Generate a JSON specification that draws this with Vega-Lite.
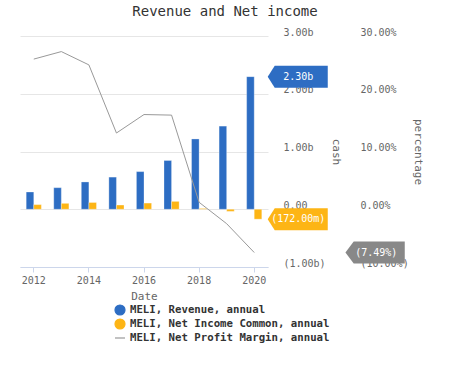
{
  "$schema": "https://vega.github.io/schema/vega-lite/v6.json",
  "width": 248,
  "height": 231,
  "padding": {"left": 20, "top": 5, "right": 5, "bottom": 5},
  "background": "#ffffff",
  "config": {
    "font": "DejaVu Sans Mono",
    "view": {"stroke": null},
    "axis": {"labelFont": "DejaVu Sans Mono", "titleFont": "DejaVu Sans Mono", "labelColor": "#666666", "titleColor": "#666666", "labelFontSize": 10, "titleFontSize": 11, "titleFontWeight": "normal"},
    "legend": {"labelFont": "DejaVu Sans Mono"}
  },
  "title": {"text": "Revenue and Net income", "font": "DejaVu Sans Mono", "fontSize": 14, "fontWeight": "normal", "color": "#333333", "offset": 8, "dx": 81},
  "data": {"values": [
    {"year": 2012, "series": "MELI, Revenue, annual", "cash": 298.9},
    {"year": 2013, "series": "MELI, Revenue, annual", "cash": 373.4},
    {"year": 2014, "series": "MELI, Revenue, annual", "cash": 472.6},
    {"year": 2015, "series": "MELI, Revenue, annual", "cash": 556.5},
    {"year": 2016, "series": "MELI, Revenue, annual", "cash": 651.8},
    {"year": 2017, "series": "MELI, Revenue, annual", "cash": 844.4},
    {"year": 2018, "series": "MELI, Revenue, annual", "cash": 1217.0},
    {"year": 2019, "series": "MELI, Revenue, annual", "cash": 1439.7},
    {"year": 2020, "series": "MELI, Revenue, annual", "cash": 2296.3},
    {"year": 2012, "series": "MELI, Net Income Common, annual", "cash": 80},
    {"year": 2013, "series": "MELI, Net Income Common, annual", "cash": 102},
    {"year": 2014, "series": "MELI, Net Income Common, annual", "cash": 117},
    {"year": 2015, "series": "MELI, Net Income Common, annual", "cash": 73},
    {"year": 2016, "series": "MELI, Net Income Common, annual", "cash": 107},
    {"year": 2017, "series": "MELI, Net Income Common, annual", "cash": 136},
    {"year": 2018, "series": "MELI, Net Income Common, annual", "cash": 14},
    {"year": 2019, "series": "MELI, Net Income Common, annual", "cash": -37},
    {"year": 2020, "series": "MELI, Net Income Common, annual", "cash": -172},
    {"year": 2012, "series": "MELI, Net Profit Margin, annual", "pct": 26.0},
    {"year": 2013, "series": "MELI, Net Profit Margin, annual", "pct": 27.3},
    {"year": 2014, "series": "MELI, Net Profit Margin, annual", "pct": 25.0},
    {"year": 2015, "series": "MELI, Net Profit Margin, annual", "pct": 13.2},
    {"year": 2016, "series": "MELI, Net Profit Margin, annual", "pct": 16.4},
    {"year": 2017, "series": "MELI, Net Profit Margin, annual", "pct": 16.3},
    {"year": 2018, "series": "MELI, Net Profit Margin, annual", "pct": 1.2},
    {"year": 2019, "series": "MELI, Net Profit Margin, annual", "pct": -2.5},
    {"year": 2020, "series": "MELI, Net Profit Margin, annual", "pct": -7.49}
  ]},
  "encoding": {
    "x": {
      "field": "year", "type": "ordinal",
      "scale": {"paddingInner": 0.45, "paddingOuter": 0.225},
      "axis": {"values": [2012, 2014, 2016, 2018, 2020], "labelAngle": 0, "title": "Date", "domainColor": "#ccd6eb", "tickColor": "#ccd6eb", "tickSize": 5, "labelPadding": 3, "titlePadding": 5, "grid": false}
    }
  },
  "layer": [
    {
      "transform": [{"filter": "isValid(datum.cash)"}],
      "encoding": {
        "y": {
          "field": "cash", "type": "quantitative",
          "scale": {"domain": [-1000, 3000], "nice": false, "zero": false},
          "axis": {
            "orient": "right", "offset": 0,
            "values": [-1000, 0, 1000, 2000, 3000],
            "labelExpr": "datum.value === 0 ? '0.00' : (datum.value < 0 ? '(' + format(abs(datum.value) / 1000, '.2f') + 'b)' : format(datum.value / 1000, '.2f') + 'b')",
            "title": "cash", "titleAngle": 90, "titlePadding": 5,
            "grid": true, "gridColor": "#e6e6e6", "domain": false, "ticks": false,
            "labelPadding": 15, "labelAlign": "left", "labelBaseline": "alphabetic", "labelOffset": -1
          }
        }
      },
      "layer": [
        {
          "mark": {"type": "bar", "stroke": "#ffffff", "strokeWidth": 0.6, "strokeOpacity": 0.5},
          "encoding": {
            "xOffset": {"field": "series", "type": "nominal", "sort": ["MELI, Revenue, annual", "MELI, Net Income Common, annual"], "scale": {"paddingInner": 0, "paddingOuter": 0}},
            "color": {
              "field": "series", "type": "nominal",
              "scale": {"domain": ["MELI, Revenue, annual", "MELI, Net Income Common, annual", "MELI, Net Profit Margin, annual"], "range": ["#2d6dc3", "#fdb515", "#999999"]},
              "legend": {
                "orient": "none", "legendX": 94, "legendY": 268, "direction": "vertical", "title": null,
                "labelFontSize": 10.7, "labelFontWeight": "bold", "labelColor": "#333333", "labelLimit": 400,
                "symbolSize": 100, "rowPadding": -3.7, "labelOffset": 4,
                "symbolType": {"expr": "datum.value === 'MELI, Net Profit Margin, annual' ? 'stroke' : 'circle'"},
                "symbolStrokeColor": {"expr": "datum.value === 'MELI, Net Profit Margin, annual' ? '#999999' : 'transparent'"},
                "symbolStrokeWidth": 1.2
              }
            }
          }
        },
        {
          "transform": [{"filter": "datum.year === 2020"}],
          "mark": {"type": "point", "shape": "M 1.35 0 L 2.05 -1.1 L 7.35 -1.1 L 7.35 1.1 L 2.05 1.1 Z", "size": 400, "filled": true, "opacity": 1, "strokeWidth": 0},
          "encoding": {
            "color": {"field": "series", "type": "nominal", "scale": {"domain": ["MELI, Revenue, annual", "MELI, Net Income Common, annual", "MELI, Net Profit Margin, annual"], "range": ["#2d6dc3", "#fdb515", "#999999"]}, "legend": null}
          }
        },
        {
          "transform": [
            {"filter": "datum.year === 2020"},
            {"calculate": "datum.cash < 0 ? '(' + format(abs(datum.cash), '.2f') + 'm)' : format(datum.cash / 1000, '.2f') + 'b'", "as": "label"}
          ],
          "mark": {"type": "text", "xOffset": 44, "color": "#ffffff", "fontSize": 10, "font": "DejaVu Sans Mono", "align": "center", "baseline": "middle"},
          "encoding": {"text": {"field": "label"}}
        }
      ]
    },
    {
      "transform": [{"filter": "isValid(datum.pct)"}],
      "encoding": {
        "y": {
          "field": "pct", "type": "quantitative",
          "scale": {"domain": [-10, 30], "nice": false, "zero": false},
          "axis": {
            "orient": "right", "offset": 77,
            "values": [-10, 0, 10, 20, 30],
            "labelExpr": "datum.value < 0 ? '(' + format(abs(datum.value), '.2f') + '%)' : format(datum.value, '.2f') + '%'",
            "title": "percentage", "titleAngle": 90, "titlePadding": 4,
            "grid": false, "domain": false, "ticks": false,
            "labelPadding": 15, "labelAlign": "left", "labelBaseline": "alphabetic", "labelOffset": -1
          }
        }
      },
      "layer": [
        {
          "mark": {"type": "line", "strokeWidth": 1},
          "encoding": {
            "color": {"field": "series", "type": "nominal"}
          }
        },
        {
          "transform": [{"filter": "datum.year === 2020"}],
          "mark": {"type": "point", "shape": "M 9.12 0 L 9.95 -1.1 L 15.05 -1.1 L 15.05 1.1 L 9.95 1.1 Z", "size": 400, "filled": true, "opacity": 1, "strokeWidth": 0, "color": "#888888"}
        },
        {
          "transform": [
            {"filter": "datum.year === 2020"},
            {"calculate": "'(' + format(abs(datum.pct), '.2f') + '%)'", "as": "label"}
          ],
          "mark": {"type": "text", "xOffset": 122, "color": "#ffffff", "fontSize": 10, "font": "DejaVu Sans Mono", "align": "center", "baseline": "middle"},
          "encoding": {"text": {"field": "label"}}
        }
      ]
    }
  ],
  "resolve": {"scale": {"y": "independent"}}
}
